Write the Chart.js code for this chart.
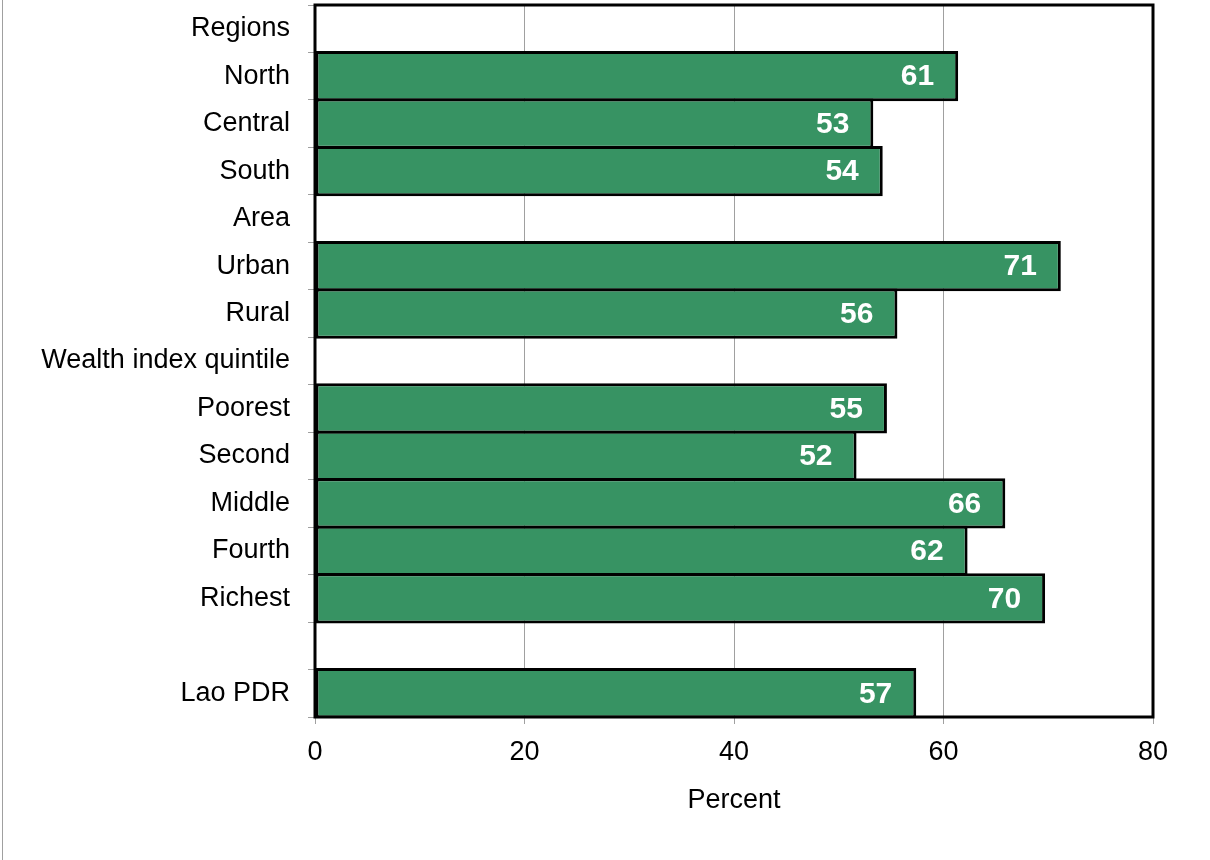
<!DOCTYPE html>
<html>
<head>
<meta charset="utf-8">
<script src="https://cdn.jsdelivr.net/npm/chart.js@4/dist/chart.umd.min.js"></script>
<style>
  html, body { margin: 0; padding: 0; background: #fff; }
  canvas { display: block; }
</style>
</head>
<body>
<canvas id="chart" width="1210" height="860"></canvas>
<script>
// Categories (header rows and spacer have no value)
const categories = ['Regions', 'North', 'Central', 'South', 'Area', 'Urban', 'Rural',
    'Wealth index quintile', 'Poorest', 'Second', 'Middle', 'Fourth', 'Richest', '', 'Lao PDR'];
const percentValues = [null, 61.4, 53.3, 54.2, null, 71.2, 55.6,
    null, 54.6, 51.7, 65.9, 62.3, 69.7, null, 57.4];
const xTicks = [0, 20, 40, 60, 80];

const barColor = 'rgb(55, 147, 99)';
const fontFamily = '"Liberation Sans", Arial, sans-serif';

// frame round the plot + left page edge line
const framePlugin = {
    id: 'frame',
    afterDraw(chart) {
        const { ctx, chartArea: a } = chart;
        ctx.save();
        ctx.strokeStyle = '#000';
        ctx.lineWidth = 3;
        ctx.strokeRect(a.left, a.top, a.right - a.left, a.bottom - a.top);
        ctx.strokeStyle = '#a0a0a0';
        ctx.lineWidth = 1;
        ctx.beginPath();
        ctx.moveTo(2.5, 0);
        ctx.lineTo(2.5, chart.height);
        ctx.stroke();
        ctx.restore();
    }
};

// white value labels inside the bar ends
const valueLabels = {
    id: 'valueLabels',
    afterDatasetsDraw(chart) {
        const { ctx } = chart;
        const meta = chart.getDatasetMeta(0);
        ctx.save();
        ctx.fillStyle = '#fff';
        ctx.font = 'bold 30px ' + fontFamily;
        ctx.textAlign = 'right';
        ctx.textBaseline = 'middle';
        meta.data.forEach((bar, i) => {
            const v = percentValues[i];
            if (v === null) return;
            ctx.fillText(Math.round(v), bar.x - 24, bar.y + 1);
        });
        ctx.restore();
    }
};

new Chart(document.getElementById('chart'), {
    type: 'bar',
    data: {
        labels: categories,
        datasets: [{
            data: percentValues,
            backgroundColor: barColor,
            borderColor: '#000',
            borderWidth: 3,
            borderSkipped: false,
            barPercentage: 1.06,
            categoryPercentage: 1
        }]
    },
    options: {
        indexAxis: 'y',
        responsive: false,
        animation: false,
        devicePixelRatio: 1,
        layout: { padding: { top: 5, right: 57, left: 0, bottom: 0 } },
        plugins: {
            legend: { display: false },
            tooltip: { enabled: false }
        },
        scales: {
            x: {
                min: 0,
                max: 80,
                afterBuildTicks: (scale) => { scale.ticks = xTicks.map(v => ({ value: v })); },
                afterFit: (scale) => {
                    scale.height = 143;
                    scale.paddingLeft = 0;
                    scale.paddingRight = 0;
                },
                ticks: {
                    color: '#000',
                    padding: 12,
                    font: { family: fontFamily, size: 27 }
                },
                grid: { color: '#a0a0a0', lineWidth: 1, tickLength: 7 },
                border: { display: false },
                title: {
                    display: true,
                    text: 'Percent',
                    color: '#000',
                    font: { family: fontFamily, size: 27 },
                    padding: { top: 0, bottom: 43 }
                }
            },
            y: {
                afterFit: (scale) => {
                    scale.width = 315;
                    scale.paddingTop = 0;
                    scale.paddingBottom = 0;
                },
                ticks: {
                    color: '#000',
                    padding: 18,
                    autoSkip: false,
                    font: { family: fontFamily, size: 27 }
                },
                grid: {
                    offset: true,
                    drawOnChartArea: false,
                    color: '#a0a0a0',
                    tickLength: 7
                },
                border: { display: false }
            }
        }
    },
    plugins: [framePlugin, valueLabels]
});
</script>
</body>
</html>
